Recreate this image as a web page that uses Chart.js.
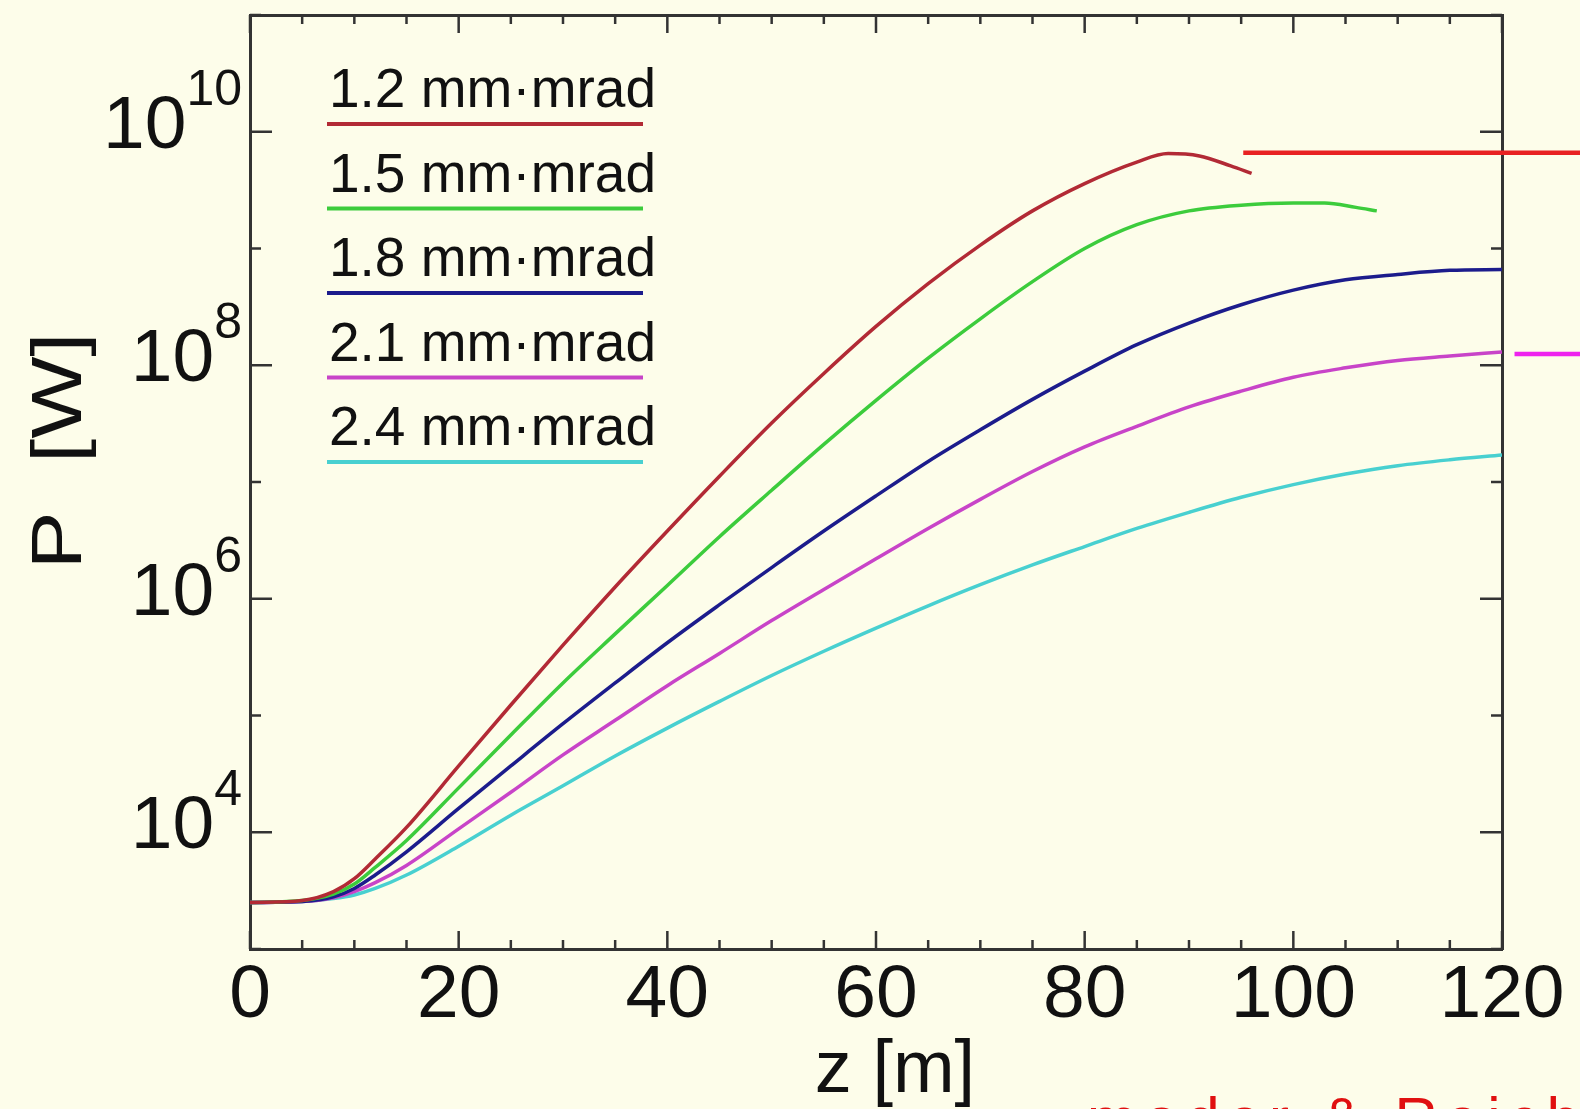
<!DOCTYPE html>
<html>
<head>
<meta charset="utf-8">
<script src="https://cdn.jsdelivr.net/npm/chart.js@4.4.1/dist/chart.umd.min.js"></script>
<style>
    html, body { margin: 0; padding: 0; background: #fdfdea; overflow: hidden; }
    #wrap { width: 1580px; height: 1109px; position: relative; }
</style>
</head>
<body>
<div id="wrap"><canvas id="gain"></canvas></div>
<script>
// Power along the undulator for five emittances
const labels = ['1.2 mm\u00b7mrad', '1.5 mm\u00b7mrad', '1.8 mm\u00b7mrad', '2.1 mm\u00b7mrad', '2.4 mm\u00b7mrad'];
const colors = ['#b22a35', '#3ccc3c', '#1c1c8c', '#c844c8', '#48d0d0'];

const zRed = [0, 5, 8, 10, 12, 15, 20, 25, 30, 35, 40, 45, 50, 55, 60, 65, 70, 75, 80, 85, 88, 91, 94, 96];
const pRed = [2.5e3, 2.6e3, 3.1e3, 4.0e3, 5.9e3, 1.1e4, 3.7e4, 1.23e5, 4.0e5, 1.26e6, 3.8e6, 1.12e7, 3.2e7, 8.5e7, 2.15e8, 5.0e8, 1.07e9, 2.1e9, 3.6e9, 5.5e9, 6.5e9, 6.2e9, 5.1e9, 4.4e9];

const zGreen = [0, 5, 8, 10, 12, 15, 20, 25, 30, 35, 40, 45, 50, 55, 60, 65, 70, 75, 80, 85, 90, 95, 100, 103, 106, 108];
const pGreen = [2.5e3, 2.6e3, 2.95e3, 3.6e3, 5.0e3, 8.5e3, 2.4e4, 6.8e4, 1.9e5, 5.0e5, 1.3e6, 3.4e6, 8.5e6, 2.1e7, 5.0e7, 1.15e8, 2.5e8, 5.2e8, 1.0e9, 1.6e9, 2.1e9, 2.35e9, 2.45e9, 2.45e9, 2.25e9, 2.1e9];

const zLong = [0, 5, 8, 10, 12, 15, 20, 25, 30, 35, 40, 45, 50, 55, 60, 65, 70, 75, 80, 85, 90, 95, 100, 105, 110, 115, 120];
const pBlue = [2.5e3, 2.55e3, 2.8e3, 3.3e3, 4.3e3, 6.8e3, 1.6e4, 3.7e4, 8.5e4, 1.9e5, 4.2e5, 8.9e5, 1.85e6, 3.8e6, 7.6e6, 1.5e7, 2.8e7, 5.1e7, 8.9e7, 1.5e8, 2.3e8, 3.3e8, 4.4e8, 5.4e8, 6.0e8, 6.5e8, 6.6e8];
const pMagenta = [2.5e3, 2.55e3, 2.75e3, 3.1e3, 3.7e3, 5.2e3, 1.07e4, 2.2e4, 4.6e4, 9.1e4, 1.8e5, 3.4e5, 6.5e5, 1.2e6, 2.2e6, 4.0e6, 7.1e6, 1.23e7, 2.0e7, 3.0e7, 4.4e7, 6.0e7, 7.9e7, 9.5e7, 1.1e8, 1.2e8, 1.3e8];
const pCyan = [2.5e3, 2.55e3, 2.7e3, 2.9e3, 3.3e3, 4.3e3, 7.6e3, 1.4e4, 2.5e4, 4.5e4, 7.8e4, 1.32e5, 2.2e5, 3.55e5, 5.6e5, 8.7e5, 1.32e6, 1.95e6, 2.8e6, 4.0e6, 5.5e6, 7.4e6, 9.5e6, 1.17e7, 1.38e7, 1.55e7, 1.7e7];

// axis ticks
const zTicks = { min: 0, max: 120, step: 5, labelEvery: 20 };
const powerExps = [3, 4, 5, 6, 7, 8, 9, 10, 11];
const labelExps = [4, 6, 8, 10];

// slide markers pointing at the peak / end levels
const markerLevels = [6.6e9, 1.25e8];
const markerStartZ = [95.2, 121.2];
const markerColors = ['#e82222', '#ee22ee'];

const FONT = "'Liberation Sans', Arial, Helvetica, sans-serif";
const AXIS = '#333333';

function pairs(zs, ps) {
    return zs.map((z, i) => ({ x: z, y: ps[i] }));
}

const series = [pairs(zRed, pRed), pairs(zGreen, pGreen), pairs(zLong, pBlue), pairs(zLong, pMagenta), pairs(zLong, pCyan)];

const zeroW = s => { s.width = 0; };
const zeroH = s => { s.height = 0; };
const powerTicks = s => { s.ticks = powerExps.map(e => ({ value: Math.pow(10, e) })); };

// inward ticks on all four sides, y labels with exponents, titles, legend, markers
const decor = {
    id: 'decor',
    afterDraw(chart) {
        const { ctx, chartArea: a, scales } = chart;
        const x = scales.x, y = scales.y;
        ctx.save();
        ctx.strokeStyle = AXIS;
        ctx.lineWidth = 2.5;
        const seg = (x1, y1, x2, y2) => { ctx.beginPath(); ctx.moveTo(x1, y1); ctx.lineTo(x2, y2); ctx.stroke(); };

        x.ticks.forEach(t => {
            const px = x.getPixelForValue(t.value);
            const len = t.value % zTicks.labelEvery === 0 ? 18 : 9;
            seg(px, a.bottom, px, a.bottom - len);
            seg(px, a.top, px, a.top + len);
        });
        y.ticks.forEach(t => {
            const py = y.getPixelForValue(t.value);
            const e = Math.round(Math.log10(t.value));
            const len = e % 2 === 0 ? 22 : 11;
            seg(a.left, py, a.left + len, py);
            seg(a.right, py, a.right - len, py);
        });

        // y tick labels 10^n
        ctx.fillStyle = '#111';
        ctx.textAlign = 'left';
        ctx.textBaseline = 'alphabetic';
        labelExps.forEach(e => {
            const py = y.getPixelForValue(Math.pow(10, e));
            ctx.font = '50px ' + FONT;
            const ew = ctx.measureText(String(e)).width;
            ctx.font = '75px ' + FONT;
            const bw = ctx.measureText('10').width;
            const x0 = a.left - 8 - ew - bw;
            ctx.fillText('10', x0, py + 16);
            ctx.font = '50px ' + FONT;
            ctx.fillText(String(e), x0 + bw, py - 27);
        });

        // axis titles
        ctx.font = '74px ' + FONT;
        ctx.textAlign = 'center';
        ctx.fillText('z [m]', (a.left + a.right) / 2 + 19, 1092);

        ctx.save();
        ctx.translate(81, 451);
        ctx.rotate(-Math.PI / 2);
        ctx.font = '70px ' + FONT;
        const tw = ctx.measureText('P  [W]').width;
        ctx.scale(237 / tw, 1);
        ctx.fillText('P  [W]', 0, 0);
        ctx.restore();

        // legend: label with a line under it
        ctx.textAlign = 'left';
        ctx.font = '55px ' + FONT;
        chart.data.datasets.forEach((ds, i) => {
            const top = 107 + i * 84.5;
            ctx.fillStyle = '#111';
            ctx.fillText(ds.label, 329, top);
            ctx.strokeStyle = ds.borderColor;
            ctx.lineWidth = 4;
            seg(327, top + 17, 643, top + 17);
        });

        // marker lines running off to the right
        markerLevels.forEach((v, i) => {
            const py = y.getPixelForValue(v);
            ctx.strokeStyle = markerColors[i];
            ctx.lineWidth = 4.5;
            seg(x.getPixelForValue(markerStartZ[i]), py, chart.width, py);
        });

        // cut-off credit at the bottom of the slide
        ctx.fillStyle = '#e01010';
        ctx.font = '60px ' + FONT;
        ctx.letterSpacing = '8px';
        ctx.fillText('mader & Reiche', 1087, 1139);
        ctx.restore();
    }
};

new Chart(document.getElementById('gain'), {
    type: 'line',
    data: {
        datasets: series.map((d, i) => ({
            label: labels[i],
            data: d,
            borderColor: colors[i],
            borderWidth: 3.5,
            pointRadius: 0,
            fill: false,
            cubicInterpolationMode: 'monotone'
        }))
    },
    options: {
        responsive: true,
        maintainAspectRatio: false,
        animation: false,
        layout: { padding: { left: 250, top: 15, right: 78, bottom: 0 } },
        plugins: { legend: { display: false }, tooltip: { enabled: false } },
        scales: {
            x: {
                type: 'linear', position: 'bottom',
                min: zTicks.min, max: zTicks.max,
                afterFit: s => { s.height = 160; },
                grid: { display: false, drawTicks: false },
                border: { display: true, color: AXIS, width: 3 },
                ticks: {
                    stepSize: zTicks.step, autoSkip: false, maxRotation: 0, padding: 2,
                    color: '#111', font: { family: FONT, size: 75 },
                    callback: v => (v % zTicks.labelEvery === 0 ? v : '')
                }
            },
            x2: {
                type: 'linear', position: 'top',
                min: zTicks.min, max: zTicks.max,
                afterFit: zeroH,
                grid: { display: false, drawTicks: false },
                border: { display: true, color: AXIS, width: 3 },
                ticks: { display: false }
            },
            y: {
                type: 'logarithmic', position: 'left',
                min: 1e3, max: 1e11,
                afterFit: zeroW,
                afterBuildTicks: powerTicks,
                grid: { display: false, drawTicks: false },
                border: { display: true, color: AXIS, width: 3 },
                ticks: { display: false }
            },
            y2: {
                type: 'logarithmic', position: 'right',
                min: 1e3, max: 1e11,
                afterFit: zeroW,
                grid: { display: false, drawTicks: false },
                border: { display: true, color: AXIS, width: 3 },
                ticks: { display: false }
            }
        }
    },
    plugins: [decor]
});
</script>
</body>
</html>
